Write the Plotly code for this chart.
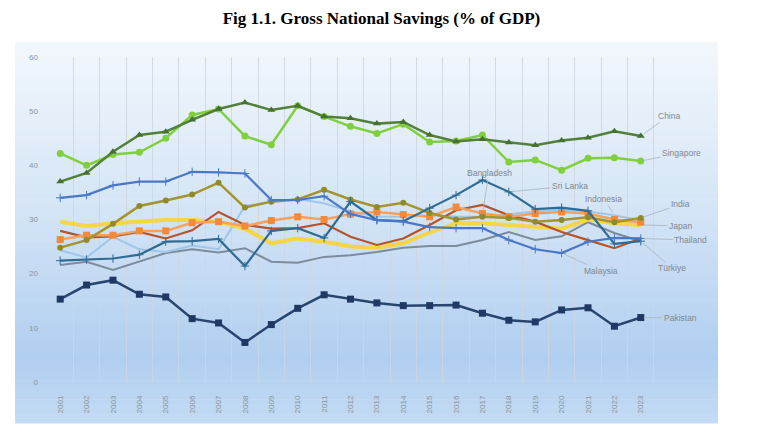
import plotly.graph_objects as go

years = list(range(2001, 2024))
year_labels = [str(y) for y in years]

china = [37.0, 38.6, 42.5, 45.6, 46.2, 48.4, 50.4, 51.6, 50.2, 51.0, 49.0, 48.7,
         47.7, 48.0, 45.6, 44.4, 44.8, 44.2, 43.7, 44.6, 45.1, 46.3, 45.4]
singapore = [42.2, 40.0, 42.0, 42.4, 45.0, 49.3, 50.4, 45.4, 43.8, 51.0, 49.0, 47.2,
             45.9, 47.6, 44.3, 44.5, 45.6, 40.6, 41.0, 39.1, 41.3, 41.4, 40.8]
malaysia = [34.0, 34.5, 36.3, 37.0, 37.0, 38.8, 38.7, 38.5, 33.6, 33.6, 34.3, 31.0,
            29.9, 29.6, 28.6, 28.4, 28.4, 26.2, 24.5, 23.8, 25.9, 26.6, 26.5]
sri_lanka = [22.4, 22.6, 22.8, 23.5, 25.9, 26.0, 26.4, 21.4, 27.9, 28.4, 26.6, 33.3,
             29.9, 29.7, 32.1, 34.5, 37.3, 35.1, 31.9, 32.2, 31.6, 25.5, 26.0]
india = [24.8, 26.2, 29.2, 32.5, 33.5, 34.6, 36.8, 32.2, 33.3, 33.7, 35.5, 33.7,
         32.3, 33.1, 31.2, 30.0, 30.5, 30.3, 29.6, 29.9, 30.4, 29.5, 30.3]
bangladesh = [26.3, 27.1, 27.1, 27.9, 27.9, 29.4, 29.6, 28.8, 29.8, 30.5, 30.0, 31.0,
              31.4, 30.9, 30.5, 32.3, 31.1, 30.5, 31.1, 31.4, 31.1, 30.0, 29.5]
thailand = [27.9, 26.7, 26.9, 27.7, 26.5, 28.0, 31.4, 29.0, 28.3, 28.4, 29.3, 26.8,
            25.3, 26.5, 29.0, 31.7, 32.7, 30.8, 29.6, 27.7, 26.2, 24.7, 26.5]
japan = [29.6, 28.8, 29.3, 29.6, 29.9, 29.9, 29.6, 28.3, 25.6, 26.5, 25.9, 25.0,
         24.8, 25.6, 27.6, 29.3, 29.3, 29.0, 28.7, 28.3, 30.0, 29.3, 29.0]
indonesia = [24.3, 23.0, 26.8, 24.5, 24.0, 25.2, 24.5, 32.5, 33.3, 33.8, 33.0, 31.5,
             30.5, 30.5, 30.8, 30.5, 30.5, 31.0, 31.5, 31.8, 31.5, 30.8, 29.8]
turkiye = [21.6, 22.2, 20.7, 22.2, 23.8, 24.5, 23.9, 24.7, 22.2, 22.0, 23.1, 23.4,
           24.0, 24.8, 25.1, 25.1, 26.2, 27.7, 26.2, 26.9, 29.5, 27.5, 26.0]
pakistan = [15.3, 17.9, 18.8, 16.2, 15.7, 11.7, 10.9, 7.3, 10.6, 13.6, 16.1, 15.3,
            14.6, 14.1, 14.1, 14.2, 12.7, 11.4, 11.1, 13.3, 13.7, 10.3, 11.9]

y_ticks = [0, 10, 20, 30, 40, 50, 60]

series = [
    ("Türkiye", turkiye, dict(color="#7c8c9c", width=2), None),
    ("Indonesia", indonesia, dict(color="#9fc5e8", width=2), None),
    ("Japan", japan, dict(color="rgba(250,212,40,0.85)", width=4), None),
    ("Thailand", thailand, dict(color="#b5532c", width=2.2), None),
    ("Bangladesh", bangladesh, dict(color="#f5a25e", width=2.5),
     dict(symbol="square", size=7, color="#f28a3a")),
    ("India", india, dict(color="#a39431", width=2.5),
     dict(symbol="circle", size=6, color="#8f8a2c")),
    ("Sri Lanka", sri_lanka, dict(color="#2f6b93", width=2.2),
     dict(symbol="cross-thin", size=6, line=dict(width=1, color="#2f6b93"))),
    ("Malaysia", malaysia, dict(color="#4a78c6", width=2.2),
     dict(symbol="cross-thin", size=6, line=dict(width=1, color="#4a78c6"))),
    ("Singapore", singapore, dict(color="#80cf3e", width=2.5),
     dict(symbol="circle", size=7, color="#80cf3e")),
    ("China", china, dict(color="#52803a", width=2.5),
     dict(symbol="triangle-up", size=7, color="#466f30")),
    ("Pakistan", pakistan, dict(color="#27456e", width=2.5),
     dict(symbol="square", size=7, color="#1f3864")),
]

fig = go.Figure()
for name, vals, line, marker in series:
    fig.add_trace(go.Scatter(
        x=years, y=vals, name=name,
        mode="lines+markers" if marker else "lines",
        line=line, marker=marker, showlegend=False,
    ))

# label annotations: (text, series values, tip year, text x, text y)
label_specs = [
    ("China", china, 2023, 2024.05, 49.1),
    ("Singapore", singapore, 2023, 2024.55, 42.3),
    ("Bangladesh", bangladesh, 2017, 2017.25, 38.6),
    ("Sri Lanka", sri_lanka, 2018, 2020.3, 36.2),
    ("Indonesia", indonesia, 2022, 2021.6, 33.8),
    ("India", india, 2023, 2024.5, 32.8),
    ("Japan", japan, 2023, 2024.5, 28.8),
    ("Thailand", thailand, 2023, 2024.9, 26.2),
    ("Türkiye", turkiye, 2023, 2024.2, 21.0),
    ("Malaysia", malaysia, 2020, 2021.5, 20.5),
    ("Pakistan", pakistan, 2023, 2024.5, 11.8),
]
annotations = []
for text, vals, yr, tx, ty in label_specs:
    annotations.append(dict(
        x=yr, y=vals[years.index(yr)], xref="x", yref="y",
        ax=tx, ay=ty, axref="x", ayref="y",
        text=text, showarrow=True, arrowhead=0, arrowwidth=0.8,
        arrowcolor="#a9b1ba", standoff=3,
        font=dict(family="Liberation Sans, Arial, sans-serif", size=8.5, color="#7f8790"),
    ))

# gradient background panel built from thin bands (screen px -> paper coords)
def lerp(c1, c2, t):
    return tuple(round(a + (b - a) * t) for a, b in zip(c1, c2))

stops = [(42, (242, 247, 252)), (200, (214, 230, 246)), (360, (176, 206, 240)), (423, (196, 219, 244))]
plot_left, plot_w = 47, 669
plot_bottom, plot_h = 382, 325
shapes = []
n_bands = 80
py0, py1 = 42, 423
for i in range(n_bands):
    a = py0 + (py1 - py0) * i / n_bands
    b = py0 + (py1 - py0) * (i + 1) / n_bands
    mid = (a + b) / 2
    for j in range(len(stops) - 1):
        if stops[j][0] <= mid <= stops[j + 1][0]:
            t = (mid - stops[j][0]) / (stops[j + 1][0] - stops[j][0])
            col = lerp(stops[j][1], stops[j + 1][1], t)
            break
    shapes.append(dict(
        type="rect", xref="paper", yref="paper", layer="below",
        x0=(15 - plot_left) / plot_w, x1=(718 - plot_left) / plot_w,
        y0=(plot_bottom - b - 0.6) / plot_h, y1=(plot_bottom - a) / plot_h,
        fillcolor="rgb(%d,%d,%d)" % col, line=dict(width=0),
    ))

fig.update_layout(
    width=760, height=438,
    margin=dict(l=39, r=52, t=49, b=64),
    paper_bgcolor="white", plot_bgcolor="rgba(0,0,0,0)",
    title=dict(text="<b>Fig 1.1. Gross National Savings (% of GDP)</b>",
               x=0.5, xref="paper", xanchor="center", y=0.977, yanchor="middle",
               font=dict(family="Liberation Serif, Times New Roman, serif", size=17, color="black")),
    shapes=shapes,
    annotations=annotations,
    xaxis=dict(
        range=[2000.5, 2025.85], tickmode="array", tickvals=years, ticktext=year_labels,
        tickangle=-90, showgrid=False, zeroline=False, showline=False, ticks="",
        ticklabelstandoff=11,
        tickfont=dict(family="Liberation Sans, Arial, sans-serif", size=8, color="#8a939c"),
        minor=dict(tickmode="array", tickvals=[y - 0.5 for y in years] + [years[-1] + 0.5],
                   showgrid=True, gridcolor="rgba(205,214,224,0.85)", gridwidth=1, ticks=""),
    ),
    yaxis=dict(
        range=[0, 60], tickmode="array", tickvals=y_ticks,
        showgrid=False, zeroline=False, showline=False, ticks="",
        ticklabelstandoff=8,
        tickfont=dict(family="Liberation Sans, Arial, sans-serif", size=8, color="#8a939c"),
    ),
)

fig.write_html("out.html")
